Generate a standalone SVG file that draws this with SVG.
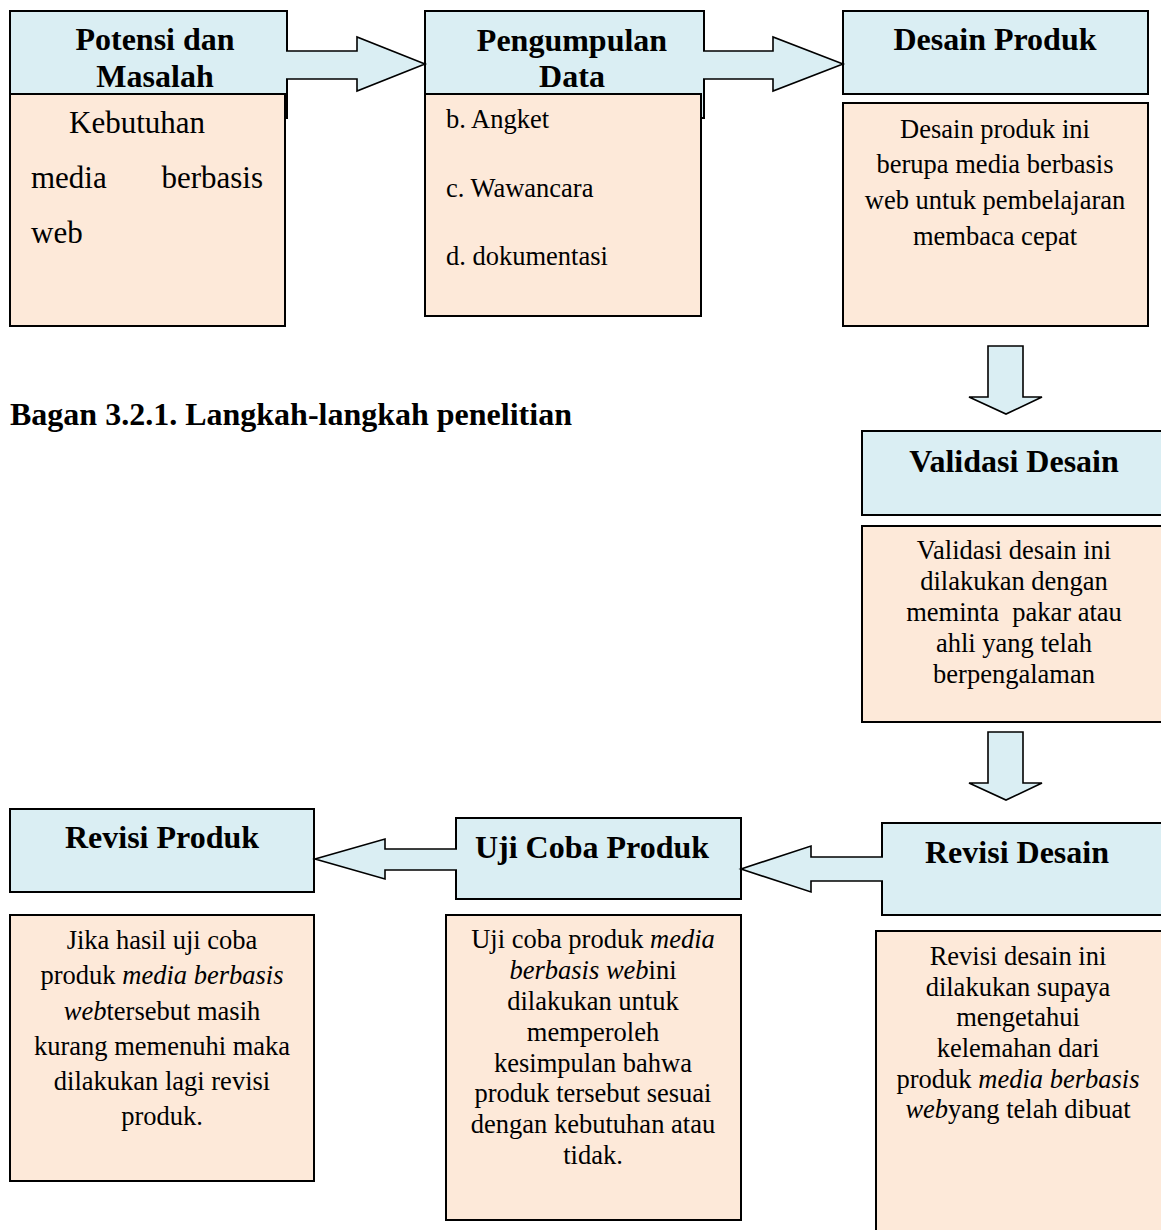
<svg xmlns="http://www.w3.org/2000/svg" width="1161" height="1230" viewBox="0 0 1161 1230">
<style>
.hd{fill:#DAEEF3;stroke:#000;stroke-width:2}
.bd{fill:#FDE9D9;stroke:#000;stroke-width:2}
.ar{fill:#DAEEF3;stroke:#000;stroke-width:1.6;stroke-linejoin:miter}
text{font-family:"Liberation Serif","Times New Roman",serif;fill:#000}
.t{font-size:32px;font-weight:bold;text-anchor:middle}
.b{font-size:26.5px;text-anchor:middle;white-space:pre}
.bl{font-size:26.5px}
.k{font-size:31px}
.i{font-style:italic}
</style>
<rect width="1161" height="1230" fill="#fff"/>
<g id="node-potensi">
<rect class="hd" x="10" y="11" width="277" height="107"/>
<rect class="bd" x="10" y="94" width="275" height="232"/>
<text class="t" x="155" y="50">Potensi dan</text>
<text class="t" x="155" y="87">Masalah</text>
<text class="k" x="69" y="133">Kebutuhan</text>
<text class="k" x="31" y="188">media</text>
<text class="k" x="263" y="188" text-anchor="end">berbasis</text>
<text class="k" x="31" y="243">web</text>
</g>
<g id="node-pengumpulan">
<rect class="hd" x="425" y="11" width="279" height="107"/>
<rect class="bd" x="425" y="94" width="276" height="222"/>
<text class="t" x="572" y="51">Pengumpulan</text>
<text class="t" x="572" y="87">Data</text>
<text class="bl" x="446" y="128">b. Angket</text>
<text class="bl" x="446" y="197">c. Wawancara</text>
<text class="bl" x="446" y="265">d. dokumentasi</text>
</g>
<g id="node-desain-produk">
<rect class="hd" x="843" y="11" width="305" height="83"/>
<rect class="bd" x="843" y="103" width="305" height="223"/>
<text class="t" x="995" y="50">Desain Produk</text>
<text class="b" x="995" y="138">Desain produk ini</text>
<text class="b" x="995" y="173">berupa media berbasis</text>
<text class="b" x="995" y="209">web untuk pembelajaran</text>
<text class="b" x="995" y="245">membaca cepat</text>
</g>
<g id="node-validasi">
<rect class="hd" x="862" y="431" width="310" height="84"/>
<rect class="bd" x="862" y="526" width="310" height="196"/>
<text class="t" x="1014" y="472">Validasi Desain</text>
<text class="b" x="1014" y="559">Validasi desain ini</text>
<text class="b" x="1014" y="590">dilakukan dengan</text>
<text class="b" x="1014" y="621">meminta  pakar atau</text>
<text class="b" x="1014" y="652">ahli yang telah</text>
<text class="b" x="1014" y="683">berpengalaman</text>
</g>
<g id="node-revisi-desain">
<rect class="hd" x="882" y="823" width="290" height="92"/>
<rect class="bd" x="876" y="931" width="296" height="310"/>
<text class="t" x="1017" y="863">Revisi Desain</text>
<text class="b" x="1018" y="965">Revisi desain ini</text>
<text class="b" x="1018" y="996">dilakukan supaya</text>
<text class="b" x="1018" y="1026">mengetahui</text>
<text class="b" x="1018" y="1057">kelemahan dari</text>
<text class="b" x="1018" y="1088">produk <tspan class="i">media berbasis</tspan></text>
<text class="b" x="1018" y="1118"><tspan class="i">web</tspan>yang telah dibuat</text>
</g>
<g id="node-uji-coba">
<rect class="hd" x="456" y="818" width="285" height="81"/>
<rect class="bd" x="446" y="915" width="295" height="305"/>
<text class="t" x="592" y="858">Uji Coba Produk</text>
<text class="b" x="593" y="948">Uji coba produk <tspan class="i">media</tspan></text>
<text class="b" x="593" y="979"><tspan class="i">berbasis web</tspan>ini</text>
<text class="b" x="593" y="1010">dilakukan untuk</text>
<text class="b" x="593" y="1041">memperoleh</text>
<text class="b" x="593" y="1072">kesimpulan bahwa</text>
<text class="b" x="593" y="1102">produk tersebut sesuai</text>
<text class="b" x="593" y="1133">dengan kebutuhan atau</text>
<text class="b" x="593" y="1164">tidak.</text>
</g>
<g id="node-revisi-produk">
<rect class="hd" x="10" y="809" width="304" height="83"/>
<rect class="bd" x="10" y="915" width="304" height="266"/>
<text class="t" x="162" y="848">Revisi Produk</text>
<text class="b" x="162" y="949">Jika hasil uji coba</text>
<text class="b" x="162" y="984">produk <tspan class="i">media berbasis</tspan></text>
<text class="b" x="162" y="1020"><tspan class="i">web</tspan>tersebut masih</text>
<text class="b" x="162" y="1055">kurang memenuhi maka</text>
<text class="b" x="162" y="1090">dilakukan lagi revisi</text>
<text class="b" x="162" y="1125">produk.</text>
</g>
<g id="connectors">
<path class="ar" d="M286,51 H357 V37 L425,64 L357,91 V79 H286"/>
<path class="ar" d="M703,51 H773 V37 L843,64 L773,91 V79 H703"/>
<path class="ar" d="M988,346 H1023 V397 H1042 L1006,414 L969,397 H988 Z"/>
<path class="ar" d="M988,732 H1023 V783 H1042 L1006,800 L969,783 H988 Z"/>
<path class="ar" d="M883,857 H811 V846 L741,869 L811,892 V881 H883"/>
<path class="ar" d="M457,849 H385 V839 L315,859 L385,879 V870 H457"/>
</g>
<text x="10" y="425" style="font-size:32px;font-weight:bold">Bagan 3.2.1. Langkah-langkah penelitian</text>
</svg>
